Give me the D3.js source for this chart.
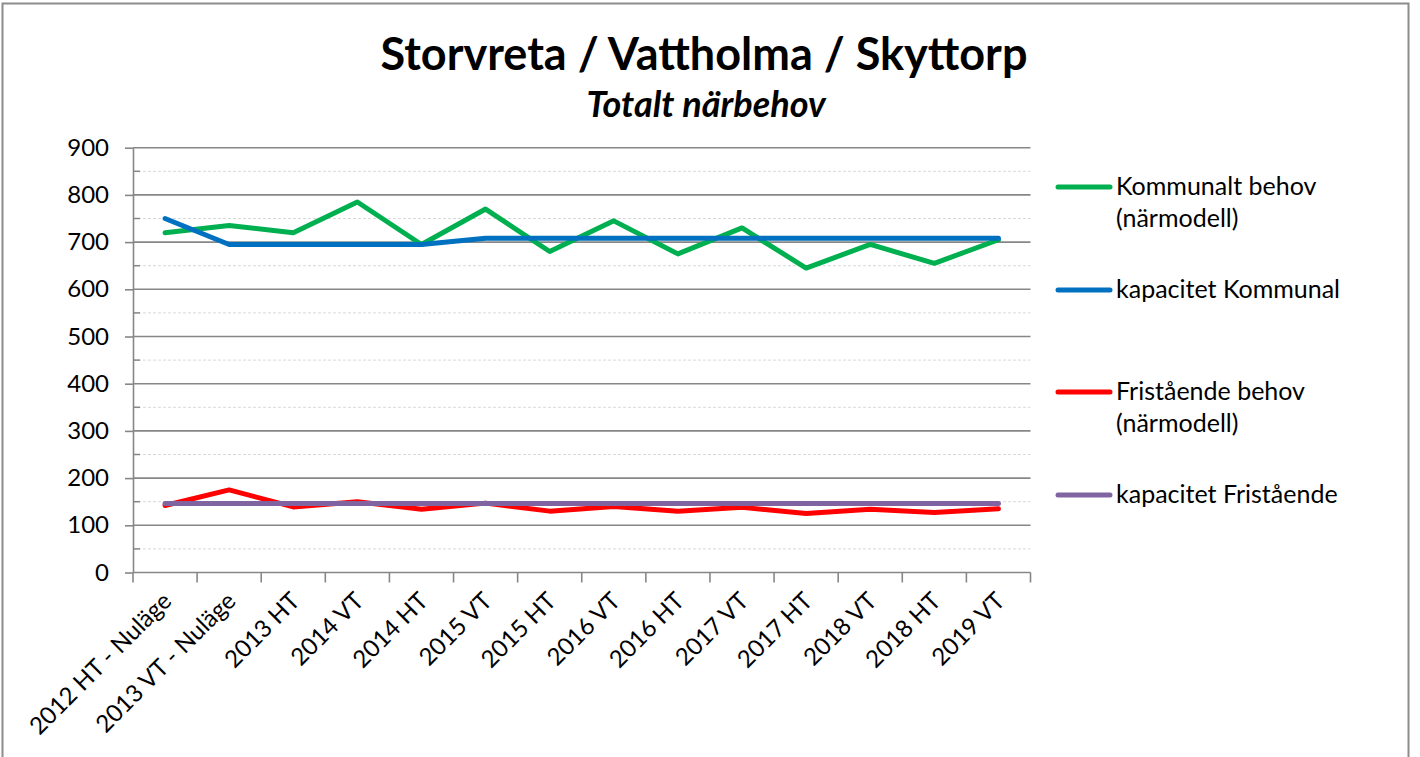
<!DOCTYPE html>
<html>
<head>
<meta charset="utf-8">
<script src="https://cdn.jsdelivr.net/npm/d3@7"></script>
<style>
  body { margin: 0; background: #fff; }
  svg { display: block; font-family: Lato, "Open Sans", sans-serif; }
</style>
</head>
<body>
<svg id="chart" width="1420" height="757"></svg>
<script>
// categories and series
const categories = [
  '2012 HT - Nuläge', '2013 VT - Nuläge', '2013 HT', '2014 VT', '2014 HT',
  '2015 VT', '2015 HT', '2016 VT', '2016 HT', '2017 VT', '2017 HT',
  '2018 VT', '2018 HT', '2019 VT',
];
const kommunaltBehov = [720, 735, 720, 785, 695, 770, 680, 745, 675, 730, 645, 695, 655, 705];
const kapacitetKommunal = [750, 695, 695, 695, 695, 708, 708, 708, 708, 708, 708, 708, 708, 708];
const fristaendeBehov = [142, 175, 139, 150, 134, 147, 130, 140, 130, 138, 125, 134, 127, 135];
const kapacitetFristaende = [146, 146, 146, 146, 146, 146, 146, 146, 146, 146, 146, 146, 146, 146];
const yTicks = [0, 100, 200, 300, 400, 500, 600, 700, 800, 900];
const yMinorTicks = [50, 150, 250, 350, 450, 550, 650, 750, 850];

const series = [
  { name: ['Kommunalt behov', '(närmodell)'], values: kommunaltBehov, color: '#00B050', legendY: 187 },
  { name: ['kapacitet Kommunal'], values: kapacitetKommunal, color: '#0070C0', legendY: 290 },
  { name: ['Fristående behov', '(närmodell)'], values: fristaendeBehov, color: '#FF0000', legendY: 392 },
  { name: ['kapacitet Fristående'], values: kapacitetFristaende, color: '#8064A2', legendY: 495 },
];

const svg = d3.select('#chart');
const gridColor = '#878787';

const x = d3.scaleBand().domain(categories).range([133, 1030.5]);
const y = d3.scaleLinear().domain([0, 900]).range([572.5, 147.7]);
const cx = c => x(c) + x.bandwidth() / 2;

// outer frame
svg.append('rect')
    .attr('x', 2.5).attr('y', 3.5)
    .attr('width', 1406).attr('height', 800)
    .attr('fill', 'none')
    .attr('stroke', '#8c8c8c')
    .attr('stroke-width', 2);

// title
svg.append('text')
    .attr('x', 704).attr('y', 70)
    .attr('text-anchor', 'middle')
    .attr('font-weight', 'bold')
    .attr('font-size', 45)
    .text('Storvreta / Vattholma / Skyttorp');
svg.append('text')
    .attr('x', 706).attr('y', 117)
    .attr('text-anchor', 'middle')
    .attr('font-weight', 'bold')
    .attr('font-style', 'italic')
    .attr('font-size', 36)
    .text('Totalt närbehov');

// minor gridlines (dashed) and minor ticks
svg.append('g').selectAll('line').data(yMinorTicks).join('line')
    .attr('x1', 133).attr('x2', 1030.5)
    .attr('y1', d => y(d)).attr('y2', d => y(d))
    .attr('stroke', '#d9d9d9')
    .attr('stroke-dasharray', '3,2')
    .attr('stroke-width', 1);
svg.append('g').selectAll('line').data(yMinorTicks).join('line')
    .attr('x1', 133).attr('x2', 140)
    .attr('y1', d => y(d)).attr('y2', d => y(d))
    .attr('stroke', gridColor)
    .attr('stroke-width', 1.5);

// major gridlines
svg.append('g').selectAll('line').data(yTicks.slice(1)).join('line')
    .attr('x1', 133).attr('x2', 1030.5)
    .attr('y1', d => y(d)).attr('y2', d => y(d))
    .attr('stroke', gridColor)
    .attr('stroke-width', 1.6);

// y axis
const yAxis = svg.append('g')
    .attr('transform', 'translate(133,0)')
    .call(d3.axisLeft(y).tickValues(yTicks).tickSize(8).tickPadding(16).tickSizeOuter(0));
yAxis.select('.domain').attr('stroke', gridColor).attr('stroke-width', 1.6);
yAxis.selectAll('.tick line').attr('stroke', gridColor).attr('stroke-width', 1.6);
yAxis.selectAll('.tick text')
    .attr('font-family', 'Lato, sans-serif')
    .attr('font-size', 24)
    .attr('fill', '#000');

// x axis: ticks at category boundaries
const boundaries = categories.map(c => x(c)).concat([x.range()[1]]);
svg.append('line')
    .attr('x1', 133).attr('x2', 1030.5)
    .attr('y1', y(0)).attr('y2', y(0))
    .attr('stroke', gridColor).attr('stroke-width', 1.6);
svg.append('g').selectAll('line').data(boundaries).join('line')
    .attr('x1', d => d).attr('x2', d => d)
    .attr('y1', y(0)).attr('y2', y(0) + 10)
    .attr('stroke', gridColor).attr('stroke-width', 1.6);

svg.append('g').selectAll('text').data(categories).join('text')
    .attr('transform', d => `translate(${cx(d) + 2},${y(0) + 24}) rotate(-45)`)
    .attr('text-anchor', 'end')
    .attr('dy', '0.35em')
    .attr('font-size', 24)
    .text(d => d);

// series lines
const line = d3.line()
    .x((v, i) => cx(categories[i]))
    .y(v => y(v));

svg.append('g').selectAll('path').data(series).join('path')
    .attr('d', s => line(s.values))
    .attr('fill', 'none')
    .attr('stroke', s => s.color)
    .attr('stroke-width', 5)
    .attr('stroke-linejoin', 'round')
    .attr('stroke-linecap', 'round');

// legend
const legend = svg.append('g').selectAll('g').data(series).join('g')
    .attr('transform', s => `translate(0,${s.legendY})`);
legend.append('line')
    .attr('x1', 1058).attr('x2', 1110)
    .attr('stroke', s => s.color)
    .attr('stroke-width', 5)
    .attr('stroke-linecap', 'round');
legend.append('text')
    .attr('x', 1116)
    .attr('font-size', 25)
    .selectAll('tspan').data(s => s.name).join('tspan')
    .attr('x', 1116)
    .attr('y', (t, i) => 8 + i * 32)
    .text(t => t);
</script>
</body>
</html>
